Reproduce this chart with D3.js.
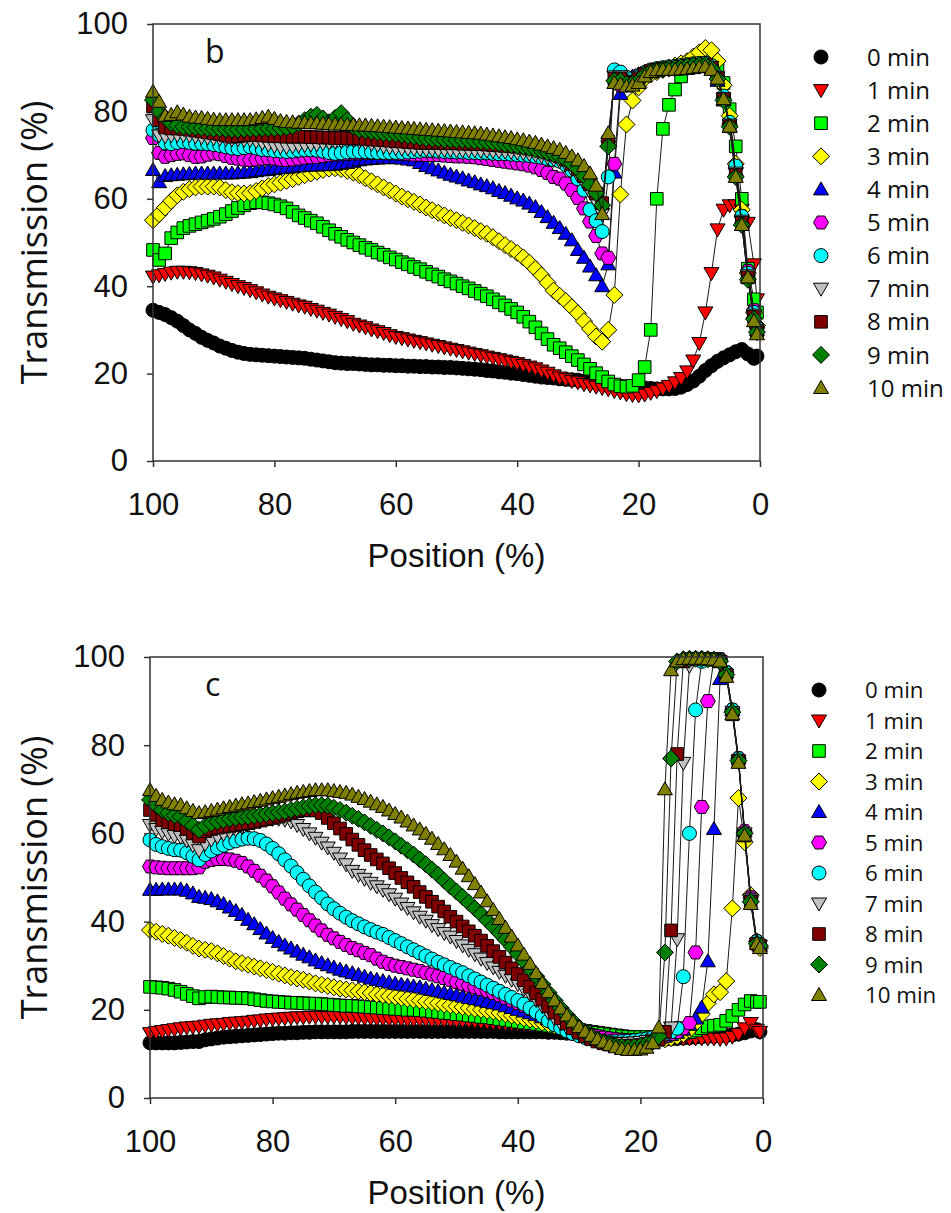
<!DOCTYPE html>
<html><head><meta charset="utf-8">
<script src="https://cdn.jsdelivr.net/npm/d3@7"></script>
<style>body{margin:0;background:#fff}</style>
</head><body>
<svg id="chart" width="951" height="1213"></svg>
<script>
// ---------- data ----------
const positions = [100,99,98,97,96,95,94,93,92,91,90,89,88,87,86,85,84,83,82,81,80,79,78,77,76,75,74,73,72,71,70,69,68,67,66,65,64,63,62,61,60,59,58,57,56,55,54,53,52,51,50,49,48,47,46,45,44,43,42,41,40,39,38,37,36,35,34,33,32,31,30,29,28,27,26,25,24,23,22,21,20,19,18,17,16,15,14,13,12,11,10,9,8,7,6,5,4,3,2,1,0.5];
const seriesLabels = ["0 min","1 min","2 min","3 min","4 min","5 min","6 min","7 min","8 min","9 min","10 min"];
const xTickValues = [100,80,60,40,20,0];
const yTickValues = [0,20,40,60,80,100];
const panelLabels = ["b","c"];

// panel b
const b0 = [34.5,34.0,33.5,32.8,32.0,31.0,30.0,29.2,28.3,27.6, 27.0,26.3,25.8,25.3,24.9,24.6,24.4,24.3,24.2,24.1, 24.0,23.9,23.8,23.7,23.6,23.5,23.3,23.1,22.9,22.7, 22.5,22.4,22.3,22.3,22.2,22.1,22.0,22.0,21.9,21.9, 21.8,21.8,21.7,21.7,21.6,21.6,21.5,21.5,21.4,21.4, 21.3,21.2,21.1,21.0,20.9,20.7,20.6,20.4,20.3,20.1, 20.0,19.8,19.6,19.4,19.2,19.1,19.0,18.8,18.7,18.6, 18.5,18.3,18.1,17.9,17.7,17.5,17.3,17.1,17.0,16.9, 16.8,16.7,16.6,16.5,16.5,16.5,16.6,16.9,17.5,18.3, 19.4,20.7,21.8,22.8,23.6,24.3,25.0,25.5,24.5,23.5, 24.0];
const b1 = [42.2,42.5,42.8,43.1,43.3,43.3,43.2,43.0,42.7,42.4, 42.0,41.5,41.0,40.5,40.0,39.6,39.1,38.6,38.1,37.6, 37.2,36.8,36.4,36.0,35.6,35.3,34.8,34.4,33.9,33.5, 33.0,32.5,32.0,31.4,31.0,30.6,30.1,29.7,29.3,28.8, 28.4,28.1,27.8,27.5,27.2,26.9,26.6,26.3,26.0,25.7, 25.4,25.1,24.8,24.5,24.2,23.9,23.6,23.3,23.0,22.7, 22.4,22.0,21.6,21.2,20.7,20.2,19.6,19.1,18.7,18.3, 18.0,17.6,17.3,17.0,16.7,16.4,16.0,15.7,15.3,15.1, 15.0,15.2,15.6,16.0,16.6,17.2,18.0,19.0,20.5,23.0, 27.0,34.0,43.0,53.0,57.5,58.5,58.5,57.5,54.5,45.0, 37.0];
const b2 = [48.3,46.0,47.5,51.0,52.3,53.3,53.8,54.2,54.6,55.0, 55.4,55.9,56.5,57.2,57.9,58.5,59.0,59.2,59.2,59.0, 58.7,58.3,57.8,57.0,56.2,55.6,55.0,54.4,53.6,52.8, 52.0,51.3,50.6,50.0,49.4,48.8,48.3,47.7,47.2,46.6, 46.1,45.5,45.0,44.4,43.9,43.3,42.7,42.2,41.6,41.1, 40.6,40.0,39.5,38.9,38.3,37.7,37.0,36.3,35.6,34.8, 34.0,33.0,31.9,30.6,29.2,27.9,26.6,25.8,24.9,24.0, 23.1,22.1,21.1,20.1,19.2,18.2,17.5,17.1,17.0,17.2, 18.5,21.5,30.0,60.0,76.0,81.5,85.0,88.0,90.0,91.5, 92.5,93.0,92.5,90.5,86.5,80.5,72.0,60.0,44.0,37.0, 34.0];
const b3 = [55.1,56.5,58.0,59.5,60.8,61.6,62.2,62.6,62.8,62.8, 62.8,62.6,62.0,61.5,61.3,61.2,61.3,61.8,62.4,62.9, 63.3,63.7,64.1,64.5,65.0,65.4,65.8,66.2,66.6,66.9, 67.0,66.8,66.4,66.0,65.4,64.7,64.0,63.3,62.6,61.9, 61.2,60.5,59.9,59.3,58.7,58.0,57.4,56.8,56.2,55.6, 55.1,54.5,53.9,53.3,52.6,52.0,51.2,50.3,49.4,48.5, 47.6,46.6,45.4,44.0,42.5,40.8,39.0,37.8,36.6,35.2, 33.8,32.0,30.2,28.5,27.3,30.0,38.0,61.0,77.0,82.5, 85.5,87.5,88.5,89.0,89.5,90.0,90.5,91.0,91.5,92.5, 93.5,94.5,94.0,91.5,86.0,79.0,68.0,57.5,43.0,34.0, 31.0];
const b4 = [66.6,63.8,65.2,65.4,65.5,65.6,65.7,65.8,65.8,65.8, 65.8,65.8,65.8,65.8,65.9,66.0,66.1,66.3,66.5,66.6, 66.8,67.0,67.1,67.2,67.4,67.5,67.6,67.6,67.7,67.7, 67.8,68.0,68.2,68.5,68.8,69.0,69.1,69.2,69.3,69.3, 69.3,69.2,69.0,68.8,68.2,67.5,67.0,66.5,66.0,65.5, 65.1,64.7,64.2,63.8,63.3,62.9,62.4,61.8,61.3,60.7, 60.1,59.6,58.9,58.1,57.0,55.8,54.5,53.3,52.0,50.5, 48.3,46.5,44.5,42.5,40.0,45.0,66.0,84.0,87.5,88.0, 88.5,89.0,89.3,89.5,89.7,89.9,90.0,90.2,90.4,90.6, 90.8,90.8,90.0,87.0,82.5,76.5,66.5,55.5,43.0,34.0, 30.0];
const b5 = [73.9,70.5,69.6,70.0,70.3,70.4,70.0,69.6,69.7,70.1, 70.4,70.2,69.8,69.4,69.2,69.0,68.9,69.0,69.2,69.3, 69.2,69.0,68.9,69.0,69.2,69.4,69.5,69.6,69.8,70.0, 70.1,70.2,70.3,70.4,70.4,70.5,70.5,70.5,70.5,70.4, 70.4,70.3,70.2,70.1,70.1,70.0,70.0,70.0,69.9,69.8, 69.7,69.7,69.6,69.5,69.3,69.1,68.9,68.7,68.5,68.3, 68.1,67.9,67.6,67.2,66.6,65.9,65.0,64.6,63.5,62.0, 60.2,57.8,54.8,51.5,47.5,46.5,68.0,86.0,87.0,87.5, 88.2,88.8,89.3,89.6,89.8,90.0,90.1,90.3,90.5,90.7, 90.9,91.0,90.3,87.5,83.0,77.0,67.0,56.0,43.5,34.5, 30.5];
const b6 = [75.7,74.6,72.8,72.6,72.9,73.1,72.9,72.7,72.7,72.6, 72.4,72.2,71.9,71.6,71.5,71.7,71.9,71.6,71.3,71.2, 71.0,70.9,70.8,70.9,71.1,71.2,71.2,71.1,70.9,70.6, 70.4,70.5,70.7,70.8,70.8,70.8,70.7,70.6,70.6,70.6, 70.6,70.6,70.7,70.8,70.9,71.0,71.0,70.9,70.8,70.8, 70.7,70.7,70.6,70.6,70.5,70.5,70.4,70.3,70.3,70.2, 70.1,70.0,69.9,69.7,69.5,69.2,68.9,68.6,67.8,66.5, 64.6,62.0,57.5,55.0,52.5,65.0,89.5,89.0,87.8,87.5, 88.0,88.9,89.5,89.8,90.0,90.2,90.3,90.5,90.7,90.9, 91.0,91.0,90.5,88.0,83.5,77.5,67.5,56.0,43.0,34.0, 30.5];
const b7 = [78.0,74.5,74.3,74.5,74.6,74.6,74.5,74.3,74.1,74.0, 73.9,73.8,73.7,73.6,73.6,73.5,73.5,73.2,72.8,72.4, 72.1,71.9,71.9,72.0,72.2,72.3,72.4,72.5,72.7,72.9, 73.1,73.3,73.4,73.5,73.2,72.9,72.6,72.3,72.0,71.8, 71.6,71.5,71.5,71.4,71.4,71.3,71.3,71.2,71.2,71.2, 71.1,71.1,71.1,71.1,71.0,71.0,70.9,70.9,70.8,70.7, 70.6,70.5,70.3,70.1,69.8,69.5,69.1,68.6,67.9,66.8, 65.4,63.6,61.5,59.2,56.5,72.0,88.0,88.0,87.0,87.0, 87.8,88.7,89.3,89.6,89.8,90.0,90.1,90.3,90.5,90.7, 90.8,90.8,90.2,87.8,83.0,77.0,66.0,55.0,42.5,33.5, 30.0];
const b8 = [81.1,78.0,76.3,76.1,76.1,76.0,75.8,75.6,75.4,75.2, 75.0,74.8,74.5,74.2,74.3,74.5,74.6,74.6,74.5,74.4, 74.3,74.3,74.2,74.2,74.2,74.2,74.1,74.1,74.0,74.0, 73.9,73.9,73.9,73.8,73.8,73.7,73.6,73.5,73.4,73.3, 73.2,73.1,73.0,72.9,72.8,72.8,72.8,72.8,72.7,72.7, 72.7,72.6,72.6,72.5,72.5,72.4,72.3,72.2,72.1,72.0, 71.9,71.7,71.5,71.3,71.0,70.6,70.1,69.7,69.0,68.0, 66.8,65.2,63.3,61.2,59.0,73.0,87.5,87.5,86.5,86.6, 87.4,88.5,89.2,89.5,89.7,89.9,90.0,90.2,90.4,90.6, 90.7,90.7,90.0,87.6,82.8,76.6,65.5,54.5,42.0,33.0, 29.5];
const b9 = [82.6,80.0,78.5,77.3,76.8,76.5,76.4,76.3,76.2,76.1, 76.0,76.0,75.9,75.8,75.8,75.9,76.0,76.0,76.1,76.1, 76.1,76.2,76.3,76.6,77.2,78.0,78.8,79.2,78.4,77.5, 78.5,79.6,78.0,76.5,75.8,75.6,75.4,75.2,75.0,74.9, 74.8,74.6,74.4,74.2,74.0,73.8,73.7,73.6,73.5,73.5, 73.4,73.4,73.3,73.2,73.1,73.0,72.9,72.7,72.5,72.3, 72.1,71.9,71.6,71.3,71.0,70.6,70.2,69.7,69.0,68.0, 66.8,65.2,63.3,61.3,58.5,72.0,87.0,87.0,86.2,86.3, 87.0,88.3,89.1,89.4,89.6,89.8,89.9,90.1,90.3,90.5, 90.6,90.6,89.8,87.4,82.5,76.5,65.0,54.0,41.5,32.5, 29.5];
const b10 = [84.5,82.2,79.0,79.2,79.8,79.3,78.8,78.6,78.5,78.3, 78.1,78.0,78.0,78.0,78.0,78.0,78.0,78.2,78.5,78.8, 78.3,77.8,77.6,77.5,77.4,77.4,77.3,77.3,77.2,77.1, 77.0,77.0,76.9,76.9,76.8,76.8,76.7,76.6,76.5,76.4, 76.3,76.2,76.1,76.0,75.9,75.8,75.7,75.6,75.5,75.4, 75.3,75.2,75.1,75.0,74.9,74.7,74.5,74.3,74.1,73.9, 73.6,73.4,73.1,72.8,72.4,72.0,71.6,71.2,70.5,69.7, 68.8,67.5,65.8,63.0,56.5,75.0,86.5,86.2,85.7,85.9, 86.5,88.0,89.0,89.4,89.5,89.5,89.5,89.6,89.7,89.9, 90.1,90.2,89.5,87.5,82.8,76.5,65.0,54.0,42.0,32.0, 29.0];

// panel c
const c0 = [12.5,12.5,12.5,12.5,12.5,12.6,12.7,12.8,12.8,13.2, 13.4,13.6,13.8,13.9,14.0,14.1,14.2,14.3,14.4,14.5, 14.6,14.7,14.7,14.8,14.8,14.9,14.9,15.0,15.0,15.0, 15.0,15.0,15.0,15.1,15.1,15.1,15.1,15.1,15.1,15.1, 15.1,15.1,15.1,15.1,15.1,15.1,15.1,15.1,15.1,15.1, 15.1,15.1,15.1,15.1,15.1,15.1,15.1,15.0,15.0,15.0, 15.0,15.0,15.0,15.0,15.0,14.9,14.9,14.8,14.7,14.6, 14.5,14.4,14.2,14.0,13.8,13.6,13.4,13.2,13.1,13.0, 13.0,13.0,13.1,13.2,13.3,13.4,13.5,13.6,13.7,13.8, 13.9,14.0,14.0,14.1,14.2,14.3,14.5,14.8,15.2,15.5, 15.0];
const c1 = [14.7,15.0,15.2,15.4,15.6,15.8,16.0,16.1,16.2,16.4, 16.6,16.7,16.8,17.0,17.1,17.2,17.3,17.5,17.6,17.8, 17.9,18.0,18.1,18.2,18.3,18.3,18.4,18.4,18.4,18.4, 18.4,18.4,18.3,18.2,18.2,18.1,18.1,18.0,18.0,17.9, 17.9,17.9,17.8,17.8,17.8,17.8,17.7,17.7,17.7,17.7, 17.6,17.6,17.5,17.4,17.3,17.2,17.1,17.0,16.9,16.8, 16.7,16.6,16.5,16.4,16.3,16.2,16.1,16.0,15.8,15.7, 15.5,15.3,15.1,14.9,14.7,14.5,14.3,14.1,14.0,13.9, 13.8,13.7,13.6,13.6,13.5,13.5,13.5,13.5,13.5,13.5, 13.5,13.5,13.5,13.4,13.5,13.9,14.5,15.8,17.0,15.5, 15.0];
const c2 = [25.2,25.1,25.0,24.8,24.5,24.1,23.6,23.1,22.6,22.9, 23.0,22.9,22.8,22.8,22.7,22.7,22.6,22.4,22.2,22.0, 21.9,21.8,21.7,21.6,21.6,21.5,21.4,21.4,21.3,21.2, 21.1,21.0,20.9,20.9,20.8,20.7,20.6,20.5,20.4,20.3, 20.2,20.1,20.0,20.0,19.9,19.8,19.6,19.5,19.3,19.2, 19.0,18.9,18.7,18.6,18.4,18.3,18.1,17.9,17.7,17.5, 17.3,17.1,17.0,16.8,16.6,16.4,16.2,16.0,15.8,15.6, 15.4,15.2,15.0,14.8,14.6,14.4,14.2,14.0,13.9,13.8, 13.8,13.8,13.8,13.9,14.0,14.2,14.4,14.6,14.9,15.3, 15.8,16.2,16.4,16.6,17.5,18.6,20.0,21.2,22.0,21.8, 21.8];
const c3 = [38.1,37.7,37.2,36.8,36.3,35.8,35.2,34.5,33.9,33.6, 33.3,32.8,32.2,31.6,31.0,30.6,30.2,29.8,29.4,29.0, 28.6,28.2,27.8,27.4,27.1,26.8,26.4,26.0,25.7,25.4, 25.1,24.8,24.6,24.4,24.2,24.0,23.8,23.5,23.3,23.1, 22.9,22.7,22.5,22.3,22.1,21.9,21.7,21.5,21.2,21.0, 20.8,20.6,20.4,20.2,20.0,19.8,19.6,19.3,19.0,18.7, 18.4,18.1,17.8,17.5,17.1,16.8,16.4,16.0,15.6,15.2, 14.8,14.5,14.2,13.9,13.6,13.4,13.2,13.0,12.9,12.8, 12.8,12.8,12.9,13.1,13.3,13.6,14.0,14.5,15.5,17.0, 19.0,21.5,23.5,24.0,26.5,43.0,68.0,58.0,46.0,35.5, 34.0];
const c4 = [47.2,47.2,47.3,47.3,47.3,47.3,47.0,46.4,45.6,45.4, 45.1,44.6,44.0,43.2,42.4,41.5,40.4,39.4,38.3,37.3, 36.3,35.4,34.6,33.9,33.2,32.5,31.9,31.2,30.6,30.1, 29.6,29.1,28.7,28.3,27.9,27.5,27.1,26.8,26.5,26.2, 25.9,25.7,25.5,25.3,25.1,24.8,24.5,24.2,23.9,23.6, 23.3,23.0,22.7,22.4,22.1,21.8,21.5,21.2,20.8,20.4, 20.0,19.6,19.2,18.8,18.3,17.8,17.3,16.8,16.3,15.8, 15.3,14.9,14.5,14.1,13.8,13.5,13.3,13.1,13.0,13.0, 13.1,13.2,13.4,13.6,13.9,14.3,14.8,15.5,16.6,18.0, 20.5,31.0,61.0,95.0,96.5,88.0,77.0,60.5,45.5,35.5, 34.5];
const c5 = [52.5,52.3,52.2,52.1,52.1,52.1,52.1,52.1,52.3,53.6, 54.0,54.2,54.2,54.1,53.8,53.3,52.5,51.5,50.4,49.3, 48.0,46.6,45.2,43.9,42.7,41.5,40.3,39.1,38.0,37.0, 36.2,35.4,34.7,34.0,33.5,32.9,32.4,31.6,30.9,30.4, 30.0,29.7,29.4,29.1,28.8,28.4,28.0,27.6,27.2,26.8, 26.3,25.9,25.5,25.1,24.7,24.3,23.8,23.3,22.7,22.1, 21.5,20.9,20.2,19.5,18.8,18.0,17.3,16.7,16.1,15.6, 15.1,14.7,14.3,14.0,13.7,13.5,13.3,13.2,13.1,13.1, 13.2,13.3,13.5,13.8,14.1,14.5,15.0,15.8,17.0,33.0, 66.0,90.0,99.5,99.5,96.5,88.0,77.0,60.5,45.5,35.5, 34.5];
const c6 = [58.5,57.5,57.0,56.6,56.3,56.2,55.6,54.8,54.0,55.2, 56.0,56.7,57.3,57.9,58.3,58.7,58.9,58.8,58.4,57.6, 56.6,55.4,54.0,52.6,51.1,49.6,48.1,46.7,45.4,44.0, 42.9,41.9,41.0,40.2,39.5,38.8,38.2,37.6,37.1,36.4, 35.7,35.0,34.3,33.6,32.9,32.2,31.5,30.8,30.2,29.6, 29.0,28.4,27.7,27.0,26.3,25.6,24.9,24.2,23.5,22.8, 22.1,21.3,20.4,19.5,18.6,17.5,16.6,15.9,15.2,14.6, 14.1,13.7,13.4,13.1,12.9,12.8,12.8,12.8,12.9,13.0, 13.2,13.4,13.7,14.0,14.5,15.0,15.8,27.5,60.0,88.0, 99.0,99.5,99.5,99.3,96.5,88.0,77.0,60.0,45.0,35.5, 34.5];
const c7 = [61.9,61.0,60.4,59.9,59.4,59.2,58.4,57.3,56.2,57.6, 58.6,59.3,59.9,60.4,60.9,61.5,61.9,62.4,62.8,63.1, 63.3,63.3,63.1,62.7,61.9,61.0,60.0,59.0,57.9,56.8, 55.6,54.3,53.0,51.5,50.6,49.7,48.8,48.0,47.2,46.2, 45.2,44.1,43.1,42.1,41.1,40.2,39.2,38.3,37.4,36.6, 35.6,34.6,33.6,32.6,31.6,30.6,29.6,28.6,27.7,26.8, 25.8,24.7,23.5,22.2,20.8,19.3,18.0,16.9,16.0,15.2, 14.5,13.9,13.5,13.1,12.8,12.6,12.5,12.5,12.5,12.6, 12.7,12.9,13.2,13.6,14.2,16.0,36.0,76.0,98.0,99.5, 99.5,99.4,99.3,99.0,96.0,87.5,76.5,60.0,45.0,35.0, 34.5];
const c8 = [65.3,64.2,63.0,62.5,62.1,61.9,61.0,60.1,59.3,60.5, 61.0,61.3,61.5,61.7,61.9,62.1,62.3,62.6,62.9,63.2, 63.5,63.8,64.2,64.6,65.0,65.2,65.3,65.2,64.6,63.5, 62.3,61.1,59.9,58.6,57.4,56.2,55.1,54.1,53.2,52.1, 51.0,49.9,48.9,47.9,46.7,45.6,44.5,43.4,42.3,41.1, 40.0,38.9,37.8,36.8,35.7,34.5,33.3,32.0,30.7,29.4, 28.1,26.7,25.2,23.8,22.3,20.8,19.4,18.1,16.9,15.8, 14.8,14.0,13.3,12.8,12.4,12.1,11.9,11.8,11.8,11.9, 12.0,12.3,12.7,13.3,15.0,38.0,78.0,99.0,99.5,99.6, 99.6,99.5,99.4,99.0,96.0,87.0,76.5,59.5,44.5,35.0, 34.5];
const c9 = [67.6,66.4,65.3,64.6,64.1,63.8,62.8,61.8,60.8,61.7, 62.3,62.7,63.0,63.3,63.5,63.7,63.8,64.0,64.2,64.4, 64.6,64.8,65.0,65.3,65.6,65.9,66.2,66.4,66.4,66.3, 65.8,65.3,64.7,64.0,63.3,62.5,61.7,60.8,60.0,59.1, 58.2,57.2,56.2,55.2,54.1,53.0,51.8,50.6,49.3,48.0, 46.8,45.6,44.3,43.0,41.7,40.3,38.9,37.4,35.9,34.3, 32.7,31.0,29.3,27.6,25.8,23.9,22.1,20.4,18.8,17.3, 16.0,14.9,14.0,13.3,12.7,12.2,11.8,11.6,11.5,11.6, 11.8,12.2,12.8,14.0,33.0,77.0,99.0,99.5,99.6,99.6, 99.6,99.5,99.4,99.0,96.0,87.5,76.5,60.0,44.5,35.0, 34.5];
const c10 = [69.8,68.5,67.6,67.0,66.6,66.4,65.7,65.1,64.6,64.8, 65.1,65.4,65.7,66.0,66.3,66.6,66.8,67.1,67.4,67.7, 68.0,68.3,68.6,68.9,69.2,69.4,69.6,69.8,69.8,69.8, 69.6,69.4,69.2,68.8,68.3,67.8,67.2,66.6,66.0,65.2, 64.4,63.6,62.7,61.8,60.9,59.9,58.8,57.6,56.4,55.1, 53.6,52.0,50.3,48.5,46.6,44.6,42.6,40.6,38.6,36.6, 34.6,32.5,30.4,28.3,26.1,24.0,22.1,20.3,18.7,17.3, 16.1,15.0,14.1,13.3,12.6,12.0,11.5,11.1,10.9,10.9, 11.0,11.4,12.4,16.0,70.0,97.0,99.0,99.5,99.6,99.6, 99.6,99.5,99.4,99.0,95.5,87.0,76.0,59.5,44.0,35.0, 34.0];

const panelBSeries = [b0,b1,b2,b3,b4,b5,b6,b7,b8,b9,b10];
const panelCSeries = [c0,c1,c2,c3,c4,c5,c6,c7,c8,c9,c10];

// ---------- styles ----------
const fills = ["#000000","#ff0000","#00ff00","#ffff00","#0000ff","#ff00ff","#00ffff","#c0c0c0","#800000","#008000","#808000"];
const shapes = ["circle","tridown","square","diamond","triup","hexagon","circle","tridown","square","diamond","triup"];

function shapePath(kind){
  const p = d3.path();
  if (kind === "circle") { p.moveTo(7,0); p.arc(0,0,7,0,2*Math.PI); }
  else if (kind === "square") { p.rect(-6.3,-6.3,12.6,12.6); }
  else if (kind === "diamond") { p.moveTo(0,-8.5); p.lineTo(8.5,0); p.lineTo(0,8.5); p.lineTo(-8.5,0); p.closePath(); }
  else if (kind === "triup") { p.moveTo(0,-7.5); p.lineTo(7.5,5.5); p.lineTo(-7.5,5.5); p.closePath(); }
  else if (kind === "tridown") { p.moveTo(0,7.5); p.lineTo(7.5,-5.5); p.lineTo(-7.5,-5.5); p.closePath(); }
  else if (kind === "hexagon") {
    for (let k=0;k<6;k++){ const a = Math.PI/3*k; const x=7.5*Math.cos(a), y=7.5*Math.sin(a); if(k===0)p.moveTo(x,y); else p.lineTo(x,y);} p.closePath();
  }
  return p.toString();
}

const svg = d3.select("#chart");
svg.append("rect").attr("width",951).attr("height",1213).attr("fill","#fff");

const panels = [
  {label: panelLabels[0], series: panelBSeries, x0:153, x1:760, yTop:24, yBot:461, legX:821, legY0:57, legDy:33.1, legTextX:867, legFont:24},
  {label: panelLabels[1], series: panelCSeries, x0:150, x1:763, yTop:657, yBot:1098, legX:819, legY0:690, legDy:30.5, legTextX:865, legFont:22.3}
];

const tickFont = "'Liberation Sans', Arial, sans-serif";
const titleFont = "'Open Sans', 'Noto Sans', sans-serif";

panels.forEach(pn => {
  const g = svg.append("g");
  const x = d3.scaleLinear().domain([100,0]).range([pn.x0, pn.x1]);
  const y = d3.scaleLinear().domain([0,100]).range([pn.yBot, pn.yTop]);

  // axes
  const yAxis = d3.axisLeft(y).tickValues(yTickValues).tickSize(6).tickSizeOuter(0).tickPadding(19);
  const xAxis = d3.axisBottom(x).tickValues(xTickValues).tickSize(6).tickSizeOuter(0).tickPadding(26);
  const ga = g.append("g").attr("transform",`translate(${pn.x0},0)`).call(yAxis);
  const gb = g.append("g").attr("transform",`translate(0,${pn.yBot})`).call(xAxis);
  [ga,gb].forEach(a => {
    a.select(".domain").remove();
    a.selectAll(".tick line").attr("stroke","#333").attr("stroke-width",1.5);
    a.selectAll(".tick text").attr("fill","#111").style("font-family",tickFont).style("font-size","31px");
  });

  // series
  const plot = g.append("g");
  pn.series.forEach((vals, si) => {
    const pts = positions.map((p,i)=>[p, vals[i]]).filter(d => d[1] != null && !isNaN(d[1]));
    plot.append("path").datum(pts)
      .attr("d", d3.line().x(d=>x(d[0])).y(d=>y(d[1])))
      .attr("fill","none").attr("stroke","#1a1a1a").attr("stroke-width",1);
    plot.append("g").selectAll("path").data(pts).join("path")
      .attr("d", shapePath(shapes[si]))
      .attr("transform", d=>`translate(${x(d[0])},${y(d[1])})`)
      .attr("fill", fills[si]).attr("stroke","#000").attr("stroke-width",1);
  });

  // frame
  g.append("rect").attr("x",pn.x0).attr("y",pn.yTop).attr("width",pn.x1-pn.x0).attr("height",pn.yBot-pn.yTop)
    .attr("fill","none").attr("stroke","#333").attr("stroke-width",1.5);

  // panel label
  g.append("text").attr("x",205).attr("y",pn.yTop+39).text(pn.label)
    .style("font-family",titleFont).style("font-size","32px").attr("fill","#111");

  // axis titles
  const yc = (pn.yTop+pn.yBot)/2;
  g.append("text").attr("transform",`translate(34,${yc}) rotate(-90)`)
    .attr("text-anchor","middle").attr("dy","0.35em").text("Transmission (%)")
    .style("font-family",titleFont).style("font-size","36px").attr("fill","#111");
  g.append("text").attr("x",(pn.x0+pn.x1)/2).attr("y",pn.yBot+106).attr("text-anchor","middle")
    .text("Position (%)").style("font-family",tickFont).style("font-size","33px").attr("fill","#111");

  // legend
  const lg = g.append("g");
  seriesLabels.forEach((lab, si) => {
    const ly = pn.legY0 + si*pn.legDy;
    lg.append("path").attr("d", shapePath(shapes[si])).attr("transform",`translate(${pn.legX},${ly})`)
      .attr("fill",fills[si]).attr("stroke","#000").attr("stroke-width",1);
    lg.append("text").attr("x",pn.legTextX).attr("y",ly).attr("dy","0.36em").text(lab)
      .style("font-family",titleFont).style("font-size",pn.legFont+"px").attr("fill","#111");
  });
});
</script>
</body></html>
